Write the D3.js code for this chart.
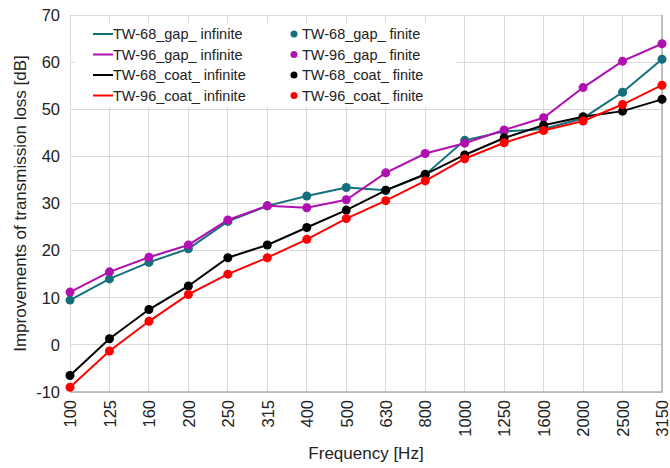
<!DOCTYPE html>
<meta charset="utf-8">
<style>
  body { margin: 0; background: #fff; }
  text { font-family: "Liberation Sans", Arial, sans-serif; fill: #222; }
  .grid line { stroke: #d9d9d9; stroke-width: 1; shape-rendering: crispEdges; }
</style>
<div class="chart"></div>
<script src="https://cdn.jsdelivr.net/npm/d3@7"></script>
<script>
    var freqs = ["100","125","160","200","250","315","400","500","630","800","1000","1250","1600","2000","2500","3150"];
    var yTicks = [-10, 0, 10, 20, 30, 40, 50, 60, 70];

    var tw68gap  = [9.5, 14, 17.5, 20.4, 26.2, 29.5, 31.6, 33.4, 32.8, 36.1, 43.4, 45.3, 45.8, 48.1, 53.6, 60.6];
    var tw96gap  = [11.2, 15.5, 18.6, 21.2, 26.5, 29.5, 29.1, 30.8, 36.5, 40.6, 42.8, 45.6, 48.2, 54.6, 60.2, 63.9];
    var tw68coat = [-6.5, 1.3, 7.5, 12.5, 18.5, 21.2, 24.9, 28.6, 32.8, 36.2, 40.3, 43.9, 46.6, 48.4, 49.6, 52.1];
    var tw96coat = [-9, -1.3, 5, 10.7, 15, 18.5, 22.4, 26.8, 30.6, 34.8, 39.5, 42.9, 45.5, 47.5, 51.0, 55.1];

    var series = [
        {name: "TW-68_gap_", color: "#13707c", values: tw68gap},
        {name: "TW-96_gap_", color: "#b010b0", values: tw96gap},
        {name: "TW-68_coat_", color: "#000000", values: tw68coat},
        {name: "TW-96_coat_", color: "#ff0000", values: tw96coat}
    ];

    var margin = {top: 15, right: 8, bottom: 76, left: 70};
    var width = 670 - margin.left - margin.right,
        height = 468 - margin.top - margin.bottom;

    var svg = d3.select('.chart').append('svg')
        .attr('width', 670).attr('height', 468)
        .append('g')
        .attr('transform', 'translate(' + margin.left + ',' + margin.top + ')');

    var x = d3.scalePoint().domain(freqs).range([0, width]);
    var y = d3.scaleLinear().domain([-10, 70]).range([height, 0]);

    // grid
    svg.append('g').attr('class', 'grid')
        .selectAll('line').data(yTicks).enter().append('line')
        .attr('x1', 0).attr('x2', width)
        .attr('y1', d => y(d)).attr('y2', d => y(d));
    svg.append('g').attr('class', 'grid')
        .selectAll('line').data(freqs).enter().append('line')
        .attr('x1', d => x(d)).attr('x2', d => x(d))
        .attr('y1', 0).attr('y2', height);

    // border on bottom / right
    svg.append('path')
        .attr('d', 'M0,' + height + 'H' + width + 'V0')
        .attr('fill', 'none').attr('stroke', '#b0b0b0').attr('stroke-width', 1.5);

    // legend box (covers grid)
    var lg = svg.append('g').attr('transform', 'translate(5,8)');
    lg.append('rect').attr('width', 381).attr('height', 84).attr('fill', '#fff');

    series.forEach(function(s, i) {
        var ry = 11 + i * 20.5;
        lg.append('line').attr('x1', 18).attr('x2', 38).attr('y1', ry).attr('y2', ry)
            .attr('stroke', s.color).attr('stroke-width', 2);
        lg.append('text').attr('x', 38).attr('y', ry + 5).attr('font-size', 14.5)
            .text(s.name + ' infinite');
        lg.append('circle').attr('cx', 219).attr('cy', ry).attr('r', 3.5).attr('fill', s.color);
        lg.append('text').attr('x', 227).attr('y', ry + 5).attr('font-size', 14.5)
            .text(s.name + ' finite');
    });

    var line = d3.line().x((d, i) => x(freqs[i])).y(d => y(d));

    series.forEach(function(s) {
        svg.append('path').datum(s.values)
            .attr('fill', 'none').attr('stroke', s.color).attr('stroke-width', 2)
            .attr('d', line);
        svg.append('g').selectAll('circle').data(s.values).enter().append('circle')
            .attr('cx', (d, i) => x(freqs[i])).attr('cy', d => y(d))
            .attr('r', 4.5).attr('fill', s.color);
    });

    // axes
    var yAxis = d3.axisLeft(y).tickValues(yTicks).tickFormat(d => String(d)).tickSize(0).tickPadding(10);
    svg.append('g').call(yAxis).call(g => g.select('.domain').remove())
        .selectAll('text').attr('font-size', 16.5).attr('fill', '#222');

    var xAxis = d3.axisBottom(x).tickSize(0);
    svg.append('g').attr('transform', 'translate(0,' + height + ')').call(xAxis)
        .call(g => g.select('.domain').remove())
        .selectAll('text')
        .attr('font-size', 16.5).attr('fill', '#222')
        .style('text-anchor', 'end')
        .attr('dx', '-8px').attr('dy', '0.35em')
        .attr('transform', 'rotate(-90)')
        .attr('x', 0).attr('y', 0);

    svg.append('text')
        .attr('x', width / 2).attr('y', height + 67)
        .attr('text-anchor', 'middle').attr('font-size', 17)
        .text('Frequency [Hz]');

    svg.append('text')
        .attr('transform', 'translate(' + (-44) + ',' + (height / 2) + ') rotate(-90)')
        .attr('text-anchor', 'middle').attr('font-size', 17)
        .text('Improvements of transmission loss [dB]');
</script>
